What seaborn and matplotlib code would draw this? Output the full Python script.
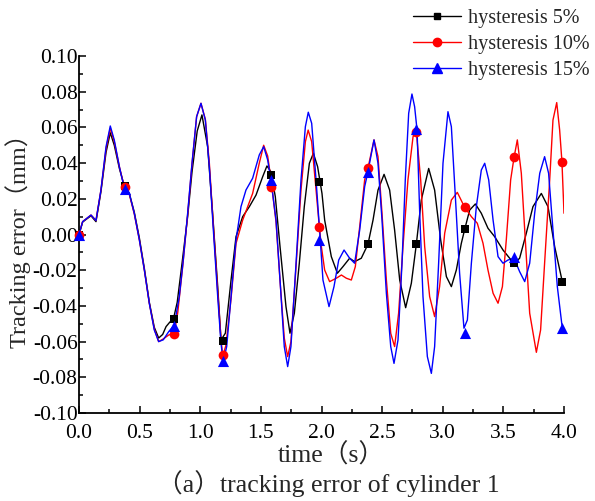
import numpy as np
import pandas as pd
import matplotlib
matplotlib.use("Agg")
import matplotlib.pyplot as plt
from matplotlib.lines import Line2D
from matplotlib.ticker import MultipleLocator, FormatStrFormatter
import seaborn as sns

# ---------------- data ----------------
labels = ["hysteresis 5%", "hysteresis 10%", "hysteresis 15%"]

t_5 = [0, 0.030, 0.099, 0.140, 0.181, 0.223, 0.258, 0.291, 0.333, 0.374, 0.415, 0.456, 0.498, 0.539,
       0.580, 0.621, 0.657, 0.690, 0.718, 0.750, 0.778, 0.810, 0.850, 0.896, 0.932, 0.975, 1.014, 1.061,
       1.102, 1.144, 1.171, 1.207, 1.254, 1.295, 1.350, 1.405, 1.460, 1.515, 1.550, 1.583, 1.619, 1.658,
       1.707, 1.740, 1.776, 1.817, 1.858, 1.900, 1.933, 1.968, 2.004, 2.026, 2.081, 2.131, 2.177, 2.232,
       2.273, 2.328, 2.383, 2.425, 2.466, 2.516, 2.562, 2.603, 2.645, 2.694, 2.741, 2.782, 2.823, 2.884,
       2.933, 2.983, 3.030, 3.071, 3.112, 3.153, 3.181, 3.222, 3.269, 3.318, 3.373, 3.428, 3.497, 3.552,
       3.593, 3.634, 3.689, 3.744, 3.813, 3.868, 3.923, 3.986]
e_5 = [0, 0.007, 0.0105, 0.0072, 0.024, 0.046, 0.0570, 0.050, 0.037, 0.027, 0.023, 0.0125, -0.002, -0.019,
       -0.038, -0.052, -0.058, -0.056, -0.0516, -0.049, -0.0475, -0.038, -0.016, 0.010, 0.035, 0.058, 0.0670, 0.0492,
       0.0119, -0.0292, -0.0591, -0.0553, -0.0255, -0.0012, 0.010, 0.0156, 0.0221, 0.0324, 0.0384, 0.0352, 0.0212, -0.0068,
       -0.0404, -0.0553, -0.0441, -0.0161, 0.0156, 0.0399, 0.0455, 0.038, 0.023, 0.0081, -0.0124, -0.0217, -0.018, -0.0133,
       -0.0152, -0.0133, -0.0055, 0.0081, 0.0249, 0.0337, 0.0249, 0.0025, -0.0255, -0.041, -0.0273, -0.0055, 0.0193, 0.037,
       0.0249, -0.0031, -0.0236, -0.0292, -0.0199, -0.005, 0.0029, 0.0137, 0.0171, 0.0119, 0.0035, -0.0012, -0.0087, -0.0133,
       -0.0161, -0.0133, 0.0007, 0.0156, 0.023, 0.0156, -0.0068, -0.0264]

t_10 = [0, 0.030, 0.099, 0.140, 0.181, 0.223, 0.258, 0.291, 0.333, 0.374, 0.415, 0.456, 0.498, 0.539,
        0.580, 0.621, 0.657, 0.695, 0.740, 0.786, 0.814, 0.855, 0.896, 0.932, 0.970, 1.006, 1.042, 1.075,
        1.108, 1.144, 1.171, 1.185, 1.212, 1.254, 1.295, 1.350, 1.432, 1.487, 1.523, 1.556, 1.583, 1.625,
        1.658, 1.693, 1.721, 1.748, 1.790, 1.831, 1.867, 1.890, 1.919, 1.955, 1.982, 1.999, 2.026, 2.067,
        2.122, 2.164, 2.205, 2.246, 2.279, 2.315, 2.356, 2.383, 2.433, 2.466, 2.499, 2.535, 2.571, 2.603,
        2.636, 2.672, 2.713, 2.755, 2.782, 2.818, 2.851, 2.892, 2.933, 2.974, 3.016, 3.071, 3.120, 3.181,
        3.236, 3.285, 3.332, 3.373, 3.415, 3.456, 3.492, 3.524, 3.560, 3.588, 3.615, 3.648, 3.681, 3.717,
        3.772, 3.807, 3.840, 3.882, 3.909, 3.940, 3.964, 3.983, 4.0]
e_10 = [0, 0.0072, 0.0109, 0.0078, 0.0249, 0.048, 0.0595, 0.052, 0.038, 0.0265, 0.0225, 0.0115, -0.0031, -0.0199,
        -0.0386, -0.0530, -0.0600, -0.0585, -0.0563, -0.0553, -0.044, -0.018, 0.0110, 0.0395, 0.066, 0.0735, 0.0645, 0.040,
        0.0050, -0.032, -0.058, -0.0684, -0.062, -0.036, -0.005, 0.0081, 0.023, 0.040, 0.050, 0.044, 0.031, 0.007,
        -0.026, -0.058, -0.0684, -0.060, -0.018, 0.025, 0.052, 0.0585, 0.052, 0.025, 0.0044, -0.0068, -0.0199, -0.0264,
        -0.0245, -0.0227, -0.0245, -0.0255, -0.018, 0.0044, 0.0306, 0.0371, 0.0530, 0.0436, 0.0119, -0.0255, -0.0554, -0.0628,
        -0.0441, -0.0068, 0.0306, 0.0548, 0.0576, 0.0306, -0.0068, -0.0348, -0.046, -0.0292, 0.0007, 0.0193, 0.0236, 0.0152,
        0.010, 0.0063, -0.0049, -0.0199, -0.0329, -0.0385, -0.0292, -0.0031, 0.0306, 0.0432, 0.053, 0.0343, -0.0031, -0.0441,
        -0.066, -0.0535, -0.0161, 0.0306, 0.0641, 0.0739, 0.0586, 0.0408, 0.0119]

t_15 = [0, 0.030, 0.099, 0.140, 0.181, 0.223, 0.258, 0.291, 0.333, 0.374, 0.415, 0.456, 0.498, 0.539,
        0.580, 0.621, 0.657, 0.695, 0.740, 0.786, 0.827, 0.860, 0.896, 0.932, 0.970, 1.006, 1.042, 1.075,
        1.108, 1.144, 1.171, 1.190, 1.218, 1.254, 1.295, 1.336, 1.377, 1.432, 1.487, 1.523, 1.556, 1.583,
        1.625, 1.658, 1.693, 1.721, 1.748, 1.790, 1.831, 1.867, 1.891, 1.919, 1.955, 1.988, 2.012, 2.062,
        2.103, 2.142, 2.186, 2.232, 2.273, 2.315, 2.356, 2.383, 2.433, 2.466, 2.499, 2.535, 2.571, 2.598,
        2.631, 2.664, 2.691, 2.719, 2.746, 2.768, 2.788, 2.810, 2.837, 2.873, 2.906, 2.933, 2.966, 3.002,
        3.043, 3.071, 3.104, 3.139, 3.175, 3.203, 3.236, 3.277, 3.318, 3.346, 3.379, 3.415, 3.456, 3.497,
        3.538, 3.588, 3.634, 3.676, 3.717, 3.758, 3.800, 3.840, 3.873, 3.909, 3.945, 3.986]
e_15 = [0, 0.0072, 0.0109, 0.0078, 0.0249, 0.0492, 0.0608, 0.0529, 0.038, 0.0259, 0.023, 0.0119, -0.0031, -0.0199,
        -0.0386, -0.0535, -0.060, -0.059, -0.0544, -0.0507, -0.0348, -0.0143, 0.0119, 0.0399, 0.066, 0.0735, 0.0641, 0.038,
        0.0025, -0.0348, -0.0610, -0.0712, -0.0628, -0.0348, -0.0031, 0.0156, 0.0249, 0.0315, 0.0446, 0.0492, 0.0418, 0.0306,
        0.0081, -0.0255, -0.0628, -0.0740, -0.0628, -0.0161, 0.0306, 0.0604, 0.0685, 0.0623, 0.0306, -0.0012, -0.0255, -0.0404,
        -0.0292, -0.0143, -0.0087, -0.0133, -0.0161, 0.0025, 0.0268, 0.0352, 0.053, 0.0399, 0.0081, -0.0329, -0.0628, -0.0722,
        -0.0591, -0.0161, 0.0306, 0.0679, 0.0787, 0.0716, 0.0586, 0.0119, -0.0348, -0.0684, -0.0778, -0.0628, -0.0161, 0.0399,
        0.0688, 0.0604, 0.0212, -0.0217, -0.0525, -0.0479, -0.0161, 0.0156, 0.0361, 0.0399, 0.0306, 0.0081, -0.0124, -0.0161,
        -0.0143, -0.0133, -0.0208, -0.0264, -0.0161, 0.0119, 0.0343, 0.0436, 0.0343, 0.0025, -0.0292, -0.0525]

# marker points (about every 0.4 s)
t_mark = [0, 0.382, 0.780, 1.185, 1.583, 1.982, 2.383, 2.782, 3.181, 3.585, 3.986]
m_5 = [0, 0.027, -0.0475, -0.0596, 0.0333, 0.0292, -0.0055, -0.0055, 0.0029, -0.0158, -0.0264]
m_10 = [0, 0.0264, -0.0557, -0.0675, 0.0268, 0.0044, 0.0371, 0.0576, 0.0152, 0.0432, 0.0408]
m_15 = [0, 0.0253, -0.0512, -0.0708, 0.0306, -0.0031, 0.0352, 0.0591, -0.0550, -0.0124, -0.0525]

x_ticks = [0.0, 0.5, 1.0, 1.5, 2.0, 2.5, 3.0, 3.5, 4.0]
y_ticks = [-0.10, -0.08, -0.06, -0.04, -0.02, 0.00, 0.02, 0.04, 0.06, 0.08, 0.10]

# ---------------- style ----------------
sns.set_theme(style="ticks")
plt.rcParams["font.family"] = ["Liberation Serif", "Noto Sans CJK SC"]
plt.rcParams["axes.unicode_minus"] = False
plt.rcParams["lines.solid_joinstyle"] = "round"

colors = ["black", "red", "blue"]
markers = ["s", "o", "^"]
msizes = [6, 7, 8]

fig = plt.figure(figsize=(5.95, 5.01), dpi=100)
ax = fig.add_axes([79 / 595, 88 / 501, (564 - 79) / 595, (413 - 56) / 501])

series = [(t_5, e_5, m_5), (t_10, e_10, m_10), (t_15, e_15, m_15)]
for (tt, ee, mm), c, mk, ms, lab in zip(series, colors, markers, msizes, labels):
    df = pd.DataFrame({"t": tt, "e": ee})
    sns.lineplot(data=df, x="t", y="e", ax=ax, color=c, lw=1.0, sort=False,
                 estimator=None, legend=False)
    dm = pd.DataFrame({"t": t_mark, "e": mm})
    sns.scatterplot(data=dm, x="t", y="e", ax=ax, color=c, marker=mk, s=ms ** 2,
                    edgecolor=c, linewidth=0, legend=False, zorder=3, clip_on=False)

ax.set_xlim(0, 4.0)
ax.set_ylim(-0.10, 0.10)
ax.set_xticks(x_ticks)
ax.set_yticks(y_ticks)
ax.xaxis.set_minor_locator(MultipleLocator(0.25))
ax.yaxis.set_minor_locator(MultipleLocator(0.01))
ax.xaxis.set_major_formatter(FormatStrFormatter("%.1f"))
ax.yaxis.set_major_formatter(FormatStrFormatter("%.2f"))
ax.tick_params(which="both", direction="in", colors="black", labelsize=15.5, width=1.1)
ax.tick_params(which="major", length=5)
ax.tick_params(which="minor", length=3)
ax.tick_params(axis="x", pad=8)
ax.tick_params(axis="y", pad=1)
sns.despine(ax=ax)
for sp in ["left", "bottom"]:
    ax.spines[sp].set_linewidth(1.3)
    ax.spines[sp].set_color("black")

ax.set_xlabel("")
ax.set_ylabel("Tracking error（mm）", fontsize=17.5, labelpad=1)
fig.text(331 / 595, 1 - 455 / 501, "time（s）", ha="center", va="center", fontsize=18.5)
fig.text(328 / 595, 1 - 484 / 501, "（a）tracking error of cylinder 1", ha="center", va="center", fontsize=18.5)

handles = [Line2D([0], [0], color=c, lw=1.0, marker=mk, markersize=ms - 1)
           for c, mk, ms in zip(colors, markers, msizes)]
fig.legend(handles, labels, loc="upper left", bbox_to_anchor=(413 / 595, 1 - 9 / 501),
           frameon=False, fontsize=14.5, handlelength=2.4, handletextpad=0.35,
           labelspacing=0.35, borderpad=0, borderaxespad=0)

fig.savefig("out.png", dpi=100)
